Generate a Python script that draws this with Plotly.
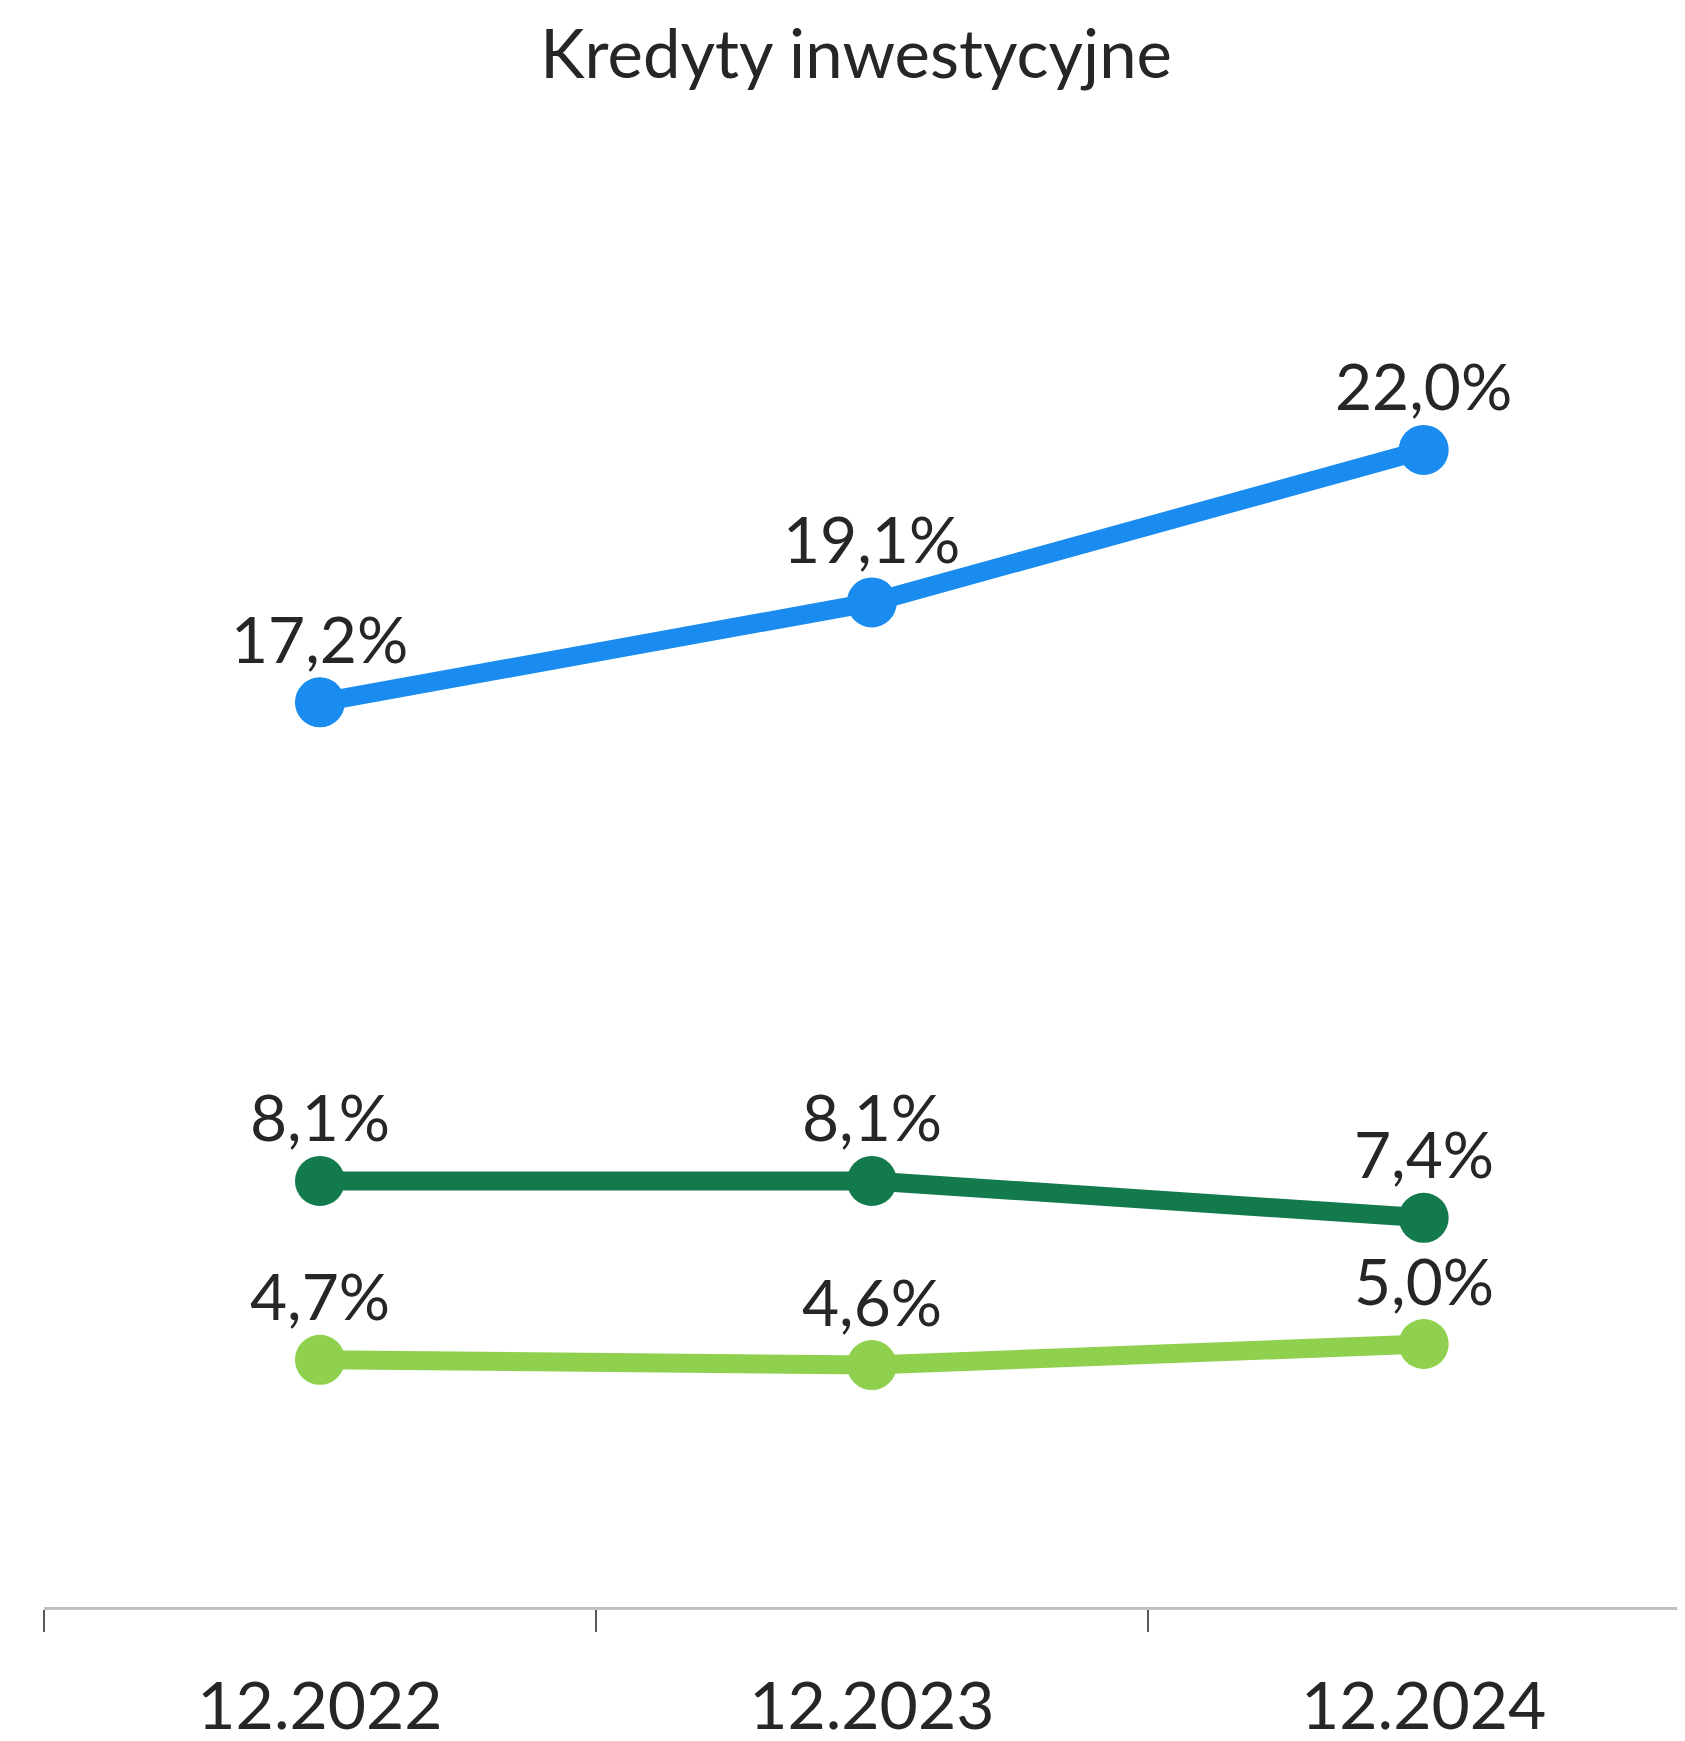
import plotly.graph_objects as go

categories = ["12.2022", "12.2023", "12.2024"]
series_blue = [17.2, 19.1, 22.0]
series_dark_green = [8.1, 8.1, 7.4]
series_light_green = [4.7, 4.6, 5.0]
labels_blue = ["17,2%", "19,1%", "22,0%"]
labels_dark_green = ["8,1%", "8,1%", "7,4%"]
labels_light_green = ["4,7%", "4,6%", "5,0%"]
title_text = "Kredyty inwestycyjne"

FONT = "Lato, Open Sans, sans-serif"
TXT = "#262626"

series = [
    (series_blue, labels_blue, "#1a8cf0"),
    (series_dark_green, labels_dark_green, "#137a4e"),
    (series_light_green, labels_light_green, "#8fd14f"),
]

fig = go.Figure()
for vals, labs, col in series:
    fig.add_trace(go.Scatter(
        x=categories, y=vals, mode="lines+markers",
        line=dict(color=col, width=19),
        marker=dict(color=col, size=50),
        cliponaxis=False, showlegend=False, hoverinfo="skip",
    ))
    for i, (v, t) in enumerate(zip(vals, labs)):
        fig.add_annotation(
            x=i, y=v, xref="x", yref="y", text=t, showarrow=False,
            yshift=64, font=dict(family=FONT, size=64, color=TXT),
        )

fig.update_layout(
    width=1685, height=1741,
    margin=dict(l=36, r=0, t=100, b=142),
    paper_bgcolor="white", plot_bgcolor="white",
    title=dict(text=title_text, x=0.5033, xanchor="center", y=1 - 47 / 1741,
               yanchor="middle", font=dict(family=FONT, size=67, color=TXT)),
    xaxis=dict(
        type="category", range=[-0.5, 2.488], showgrid=False, zeroline=False,
        showline=True, linecolor="#c0c0c0", linewidth=3,
        ticks="outside", tickson="boundaries", ticklen=22, tickwidth=2,
        tickcolor="#595959", ticklabelstandoff=40,
        tickfont=dict(family=FONT, size=66, color=TXT),
    ),
    yaxis=dict(range=[0, 28.5], showticklabels=False, showgrid=False,
               zeroline=False, showline=False, ticks=""),
)

fig.write_html("out.html")
